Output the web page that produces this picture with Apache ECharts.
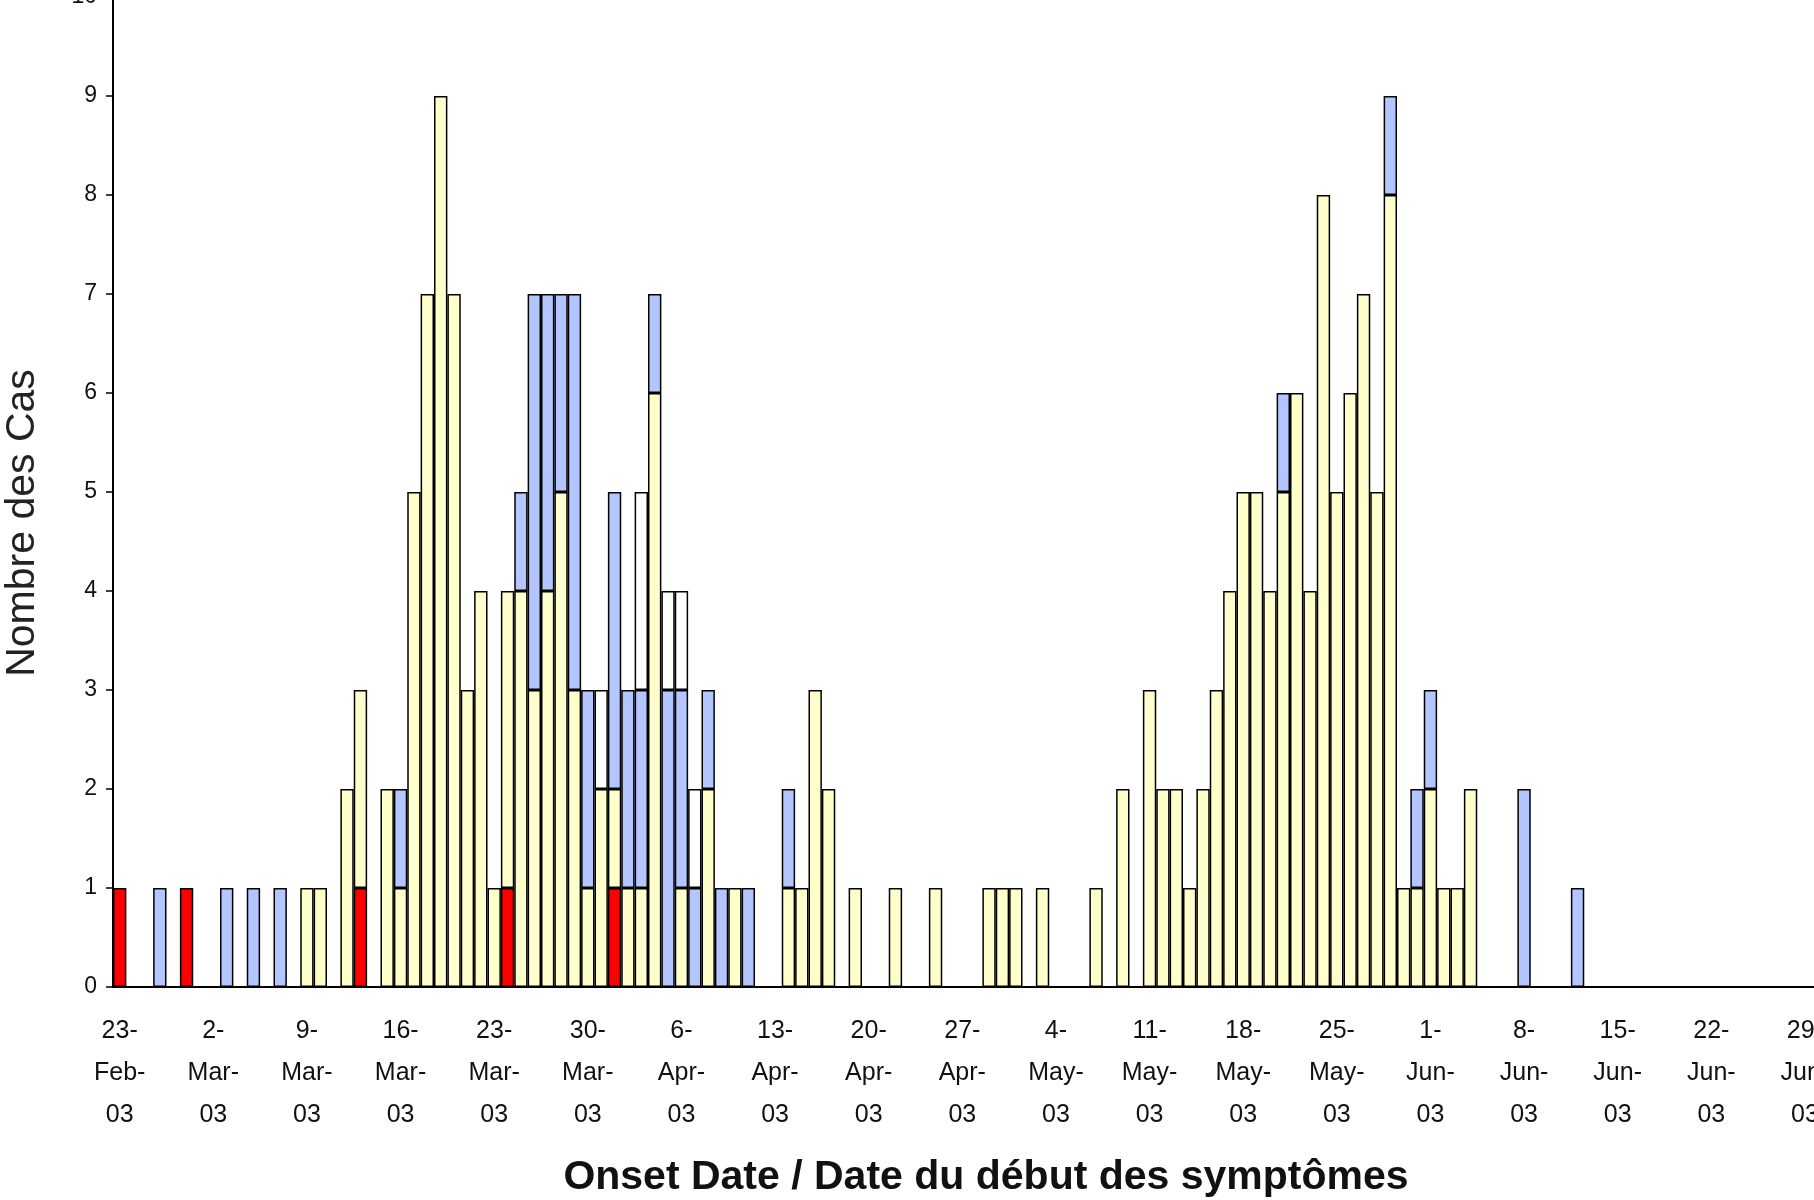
<!DOCTYPE html>
<html>
<head>
<meta charset="utf-8">
<title>Nombre des Cas</title>
<script src="https://cdn.jsdelivr.net/npm/echarts@6/dist/echarts.min.js"></script>
<style>
  html, body { margin: 0; padding: 0; background: #fff; }
  #chart { width: 1814px; height: 1200px; }
</style>
</head>
<body>
<div id="chart"></div>
<script>
// one value per day, 23-Feb-03 .. 30-Jun-03, one row per week
const redCases = [
  1, 0, 0, 0, 0, 1, 0,
  0, 0, 0, 0, 0, 0, 0,
  0, 0, 0, 0, 1, 0, 0,
  0, 0, 0, 0, 0, 0, 0,
  0, 1, 0, 0, 0, 0, 0,
  0, 0, 1, 0, 0, 0, 0,
  0, 0, 0, 0, 0, 0, 0,
  0, 0, 0, 0, 0, 0, 0,
  0, 0, 0, 0, 0, 0, 0,
  0, 0, 0, 0, 0, 0, 0,
  0, 0, 0, 0, 0, 0, 0,
  0, 0, 0, 0, 0, 0, 0,
  0, 0, 0, 0, 0, 0, 0,
  0, 0, 0, 0, 0, 0, 0,
  0, 0, 0, 0, 0, 0, 0,
  0, 0, 0, 0, 0, 0, 0,
  0, 0, 0, 0, 0, 0, 0,
  0, 0, 0, 0, 0, 0, 0,
  0, 0
];
const yellowCases = [
  0, 0, 0, 0, 0, 0, 0,
  0, 0, 0, 0, 0, 0, 0,
  1, 1, 0, 2, 2, 0, 2,
  1, 5, 7, 9, 7, 3, 4,
  1, 3, 4, 3, 4, 5, 3,
  1, 2, 1, 1, 1, 6, 0,
  1, 0, 2, 0, 1, 0, 0,
  0, 1, 1, 3, 2, 0, 1,
  0, 0, 1, 0, 0, 1, 0,
  0, 0, 1, 1, 1, 0, 1,
  0, 0, 0, 1, 0, 2, 0,
  3, 2, 2, 1, 2, 3, 4,
  5, 5, 4, 5, 6, 4, 8,
  5, 6, 7, 5, 8, 1, 1,
  2, 1, 1, 2, 0, 0, 0,
  0, 0, 0, 0, 0, 0, 0,
  0, 0, 0, 0, 0, 0, 0,
  0, 0, 0, 0, 0, 0, 0,
  0, 0
];
const blueCases = [
  0, 0, 0, 1, 0, 0, 0,
  0, 1, 0, 1, 0, 1, 0,
  0, 0, 0, 0, 0, 0, 0,
  1, 0, 0, 0, 0, 0, 0,
  0, 0, 1, 4, 3, 2, 4,
  2, 0, 3, 2, 2, 1, 3,
  2, 1, 1, 1, 0, 1, 0,
  0, 1, 0, 0, 0, 0, 0,
  0, 0, 0, 0, 0, 0, 0,
  0, 0, 0, 0, 0, 0, 0,
  0, 0, 0, 0, 0, 0, 0,
  0, 0, 0, 0, 0, 0, 0,
  0, 0, 0, 1, 0, 0, 0,
  0, 0, 0, 0, 1, 0, 1,
  1, 0, 0, 0, 0, 0, 0,
  2, 0, 0, 0, 1, 0, 0,
  0, 0, 0, 0, 0, 0, 0,
  0, 0, 0, 0, 0, 0, 0,
  0, 0
];
const whiteCases = [
  0, 0, 0, 0, 0, 0, 0,
  0, 0, 0, 0, 0, 0, 0,
  0, 0, 0, 0, 0, 0, 0,
  0, 0, 0, 0, 0, 0, 0,
  0, 0, 0, 0, 0, 0, 0,
  0, 1, 0, 0, 2, 0, 1,
  1, 1, 0, 0, 0, 0, 0,
  0, 0, 0, 0, 0, 0, 0,
  0, 0, 0, 0, 0, 0, 0,
  0, 0, 0, 0, 0, 0, 0,
  0, 0, 0, 0, 0, 0, 0,
  0, 0, 0, 0, 0, 0, 0,
  0, 0, 0, 0, 0, 0, 0,
  0, 0, 0, 0, 0, 0, 0,
  0, 0, 0, 0, 0, 0, 0,
  0, 0, 0, 0, 0, 0, 0,
  0, 0, 0, 0, 0, 0, 0,
  0, 0, 0, 0, 0, 0, 0,
  0, 0
];

const startDate = '2003-02-23';
const monthNames = ['Jan', 'Feb', 'Mar', 'Apr', 'May', 'Jun', 'Jul'];

// category labels: "23-\nFeb-\n03"
const dayLabels = [];
const d0 = new Date(startDate + 'T00:00:00Z');
for (let i = 0; i < redCases.length; i++) {
  const d = new Date(d0.getTime() + i * 86400000);
  dayLabels.push(d.getUTCDate() + '-\n' + monthNames[d.getUTCMonth()] + '-\n03');
}

const font = '"Liberation Sans", Arial, sans-serif';
const noZero = arr => arr.map(v => (v === 0 ? '-' : v));

const chart = echarts.init(document.getElementById('chart'), null, { renderer: 'canvas' });

const makeSeries = (name, data, color) => ({
  name: name,
  type: 'bar',
  stack: 'cases',
  data: noZero(data),
  barCategoryGap: '0%',
  itemStyle: { color: color, borderColor: '#000', borderWidth: 1.5 },
  emphasis: { disabled: true }
});

chart.setOption({
  animation: false,
  backgroundColor: '#fff',
  grid: {
    left: 113, right: -11, top: -3, bottom: 213,
    containLabel: false,
    outerBoundsMode: 'none'
  },
  xAxis: {
    type: 'category',
    data: dayLabels,
    boundaryGap: true,
    name: 'Onset Date / Date du début des symptômes',
    nameLocation: 'middle',
    nameGap: 170,
    nameTextStyle: {
      fontFamily: font,
      fontWeight: 'bold',
      fontSize: 41,
      color: '#111',
      padding: [0, 0, 0, 34]
    },
    axisLine: { lineStyle: { color: '#000', width: 2 } },
    axisTick: { interval: 6, length: 7, lineStyle: { color: '#000', width: 1.5 } },
    axisLabel: {
      interval: 6,
      margin: 23,
      fontFamily: font,
      fontSize: 25,
      lineHeight: 42,
      color: '#111'
    },
    splitLine: { show: false }
  },
  yAxis: {
    type: 'value',
    min: 0,
    max: 10,
    interval: 1,
    name: 'Nombre des Cas',
    nameLocation: 'middle',
    nameGap: 70,
    nameRotate: 90,
    nameTextStyle: { fontFamily: font, fontSize: 41, color: '#222', padding: [0, 62, 0, 0] },
    axisLine: { show: true, lineStyle: { color: '#000', width: 2 } },
    axisTick: { show: true, length: 7, lineStyle: { color: '#000', width: 1.5 } },
    axisLabel: { margin: 16, fontFamily: font, fontSize: 23, color: '#111' },
    splitLine: { show: false }
  },
  series: [
    makeSeries('red', redCases, '#FF0000'),
    makeSeries('yellow', yellowCases, '#FFFFCC'),
    makeSeries('blue', blueCases, '#B4C6FF'),
    makeSeries('white', whiteCases, '#FFFFFF')
  ]
});
</script>
</body>
</html>
